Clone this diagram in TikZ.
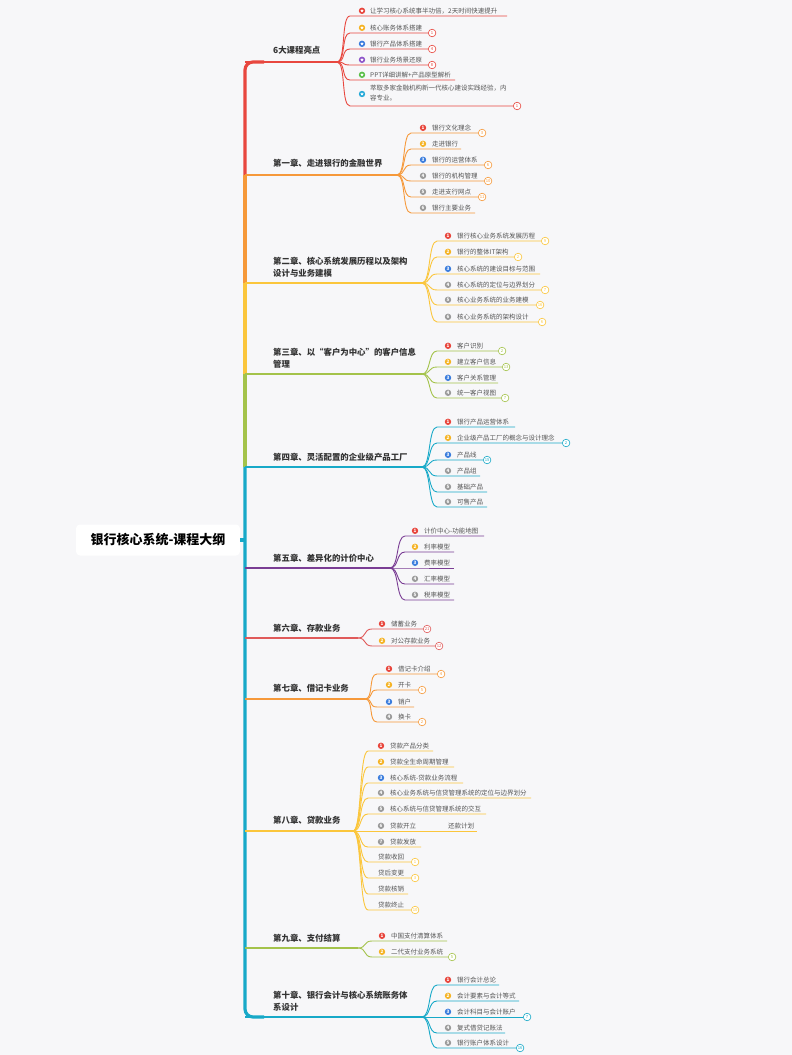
\documentclass[tikz,border=0pt]{standalone}
\usepackage{fontspec}
\setmainfont{Noto Sans CJK SC}
\usetikzlibrary{positioning,shapes.geometric}
\definecolor{bgGray}{HTML}{F7F7F9}
\definecolor{txtDark}{HTML}{333333}
\definecolor{txtGray}{HTML}{555555}
\definecolor{cRed}{HTML}{E8473F}
\definecolor{cOrange}{HTML}{F6993A}
\definecolor{cYellow}{HTML}{FBC63C}
\definecolor{cGreen}{HTML}{A4C34B}
\definecolor{cCyan}{HTML}{18A9C8}
\definecolor{cPurple}{HTML}{7A3D94}
\definecolor{cRose}{HTML}{E05A5A}
\definecolor{hRed}{HTML}{E8453C}
\definecolor{hYel}{HTML}{F5B324}
\definecolor{hBlue}{HTML}{3B7DDD}
\definecolor{hPur}{HTML}{8E55C9}
\definecolor{hGrn}{HTML}{5BBF4A}
\definecolor{hCyan}{HTML}{25A9D8}
\colorlet{num1}{hRed}
\colorlet{num2}{hYel}
\colorlet{num3}{hBlue}
\definecolor{num4}{HTML}{9A9A9A}
\colorlet{num5}{num4}
\colorlet{num6}{num4}
\colorlet{num7}{num4}

\begin{document}
\begin{tikzpicture}[x=1pt,y=-1pt,
   chap/.style={anchor=west,align=left,inner sep=0pt,text=txtDark,
                font=\fontsize{8.4}{12}\selectfont\bfseries},
   item/.style={anchor=base west,inner sep=0pt,text=txtGray,font=\fontsize{6.5}{8}\selectfont},
   ico/.style={circle,inner sep=0pt,minimum size=6.4pt,fill=#1,text=white,
               font=\fontsize{4.6}{5}\selectfont\bfseries},
   hico/.style={circle,inner sep=0pt,minimum size=6.4pt,fill=#1},
   hstar/.style={star,star points=5,star point ratio=2.2,fill=white,inner sep=0pt,minimum size=3.4pt},
   badge/.style={circle,draw=#1,fill=white,text=#1,line width=0.6pt,inner sep=0pt,
                 minimum size=7.6pt,font=\fontsize{4.2}{5}\selectfont},
   lnk/.style={draw=#1,line width=0.9pt},
   chline/.style={draw=#1,line width=1.4pt},
   trunk/.style={draw=#1,line width=3.2pt,rounded corners=8pt},
   root/.style={fill=white,rounded corners=4pt,minimum width=164pt,minimum height=31pt,
                text=black,font=\fontsize{13}{15}\selectfont\bfseries}]
  \useasboundingbox (0,0) rectangle (792,1055);
  \fill[bgGray] (0,0) rectangle (792,1055);

  \node[root] (root) at (158,540) {银行核心系统-课程大纲};

  \coordinate (k0) at (264,62);
  \coordinate (t0) at (245,62);
  \coordinate (t1) at (245,175);
  \coordinate (t2) at (245,283);
  \coordinate (t3) at (245,374);
  \coordinate (t4) at (245,467);
  \coordinate (t5) at (245,568);
  \coordinate (t6) at (245,638);
  \coordinate (t7) at (245,699);
  \coordinate (t8) at (245,831);
  \coordinate (t9) at (245,948);
  \coordinate (t10) at (245,1017);
  \coordinate (k10) at (264,1017);
  \coordinate (tr) at (245,540);

  \draw[trunk=cRed] (k0) -- (t0) -- (t1);
  \draw[trunk=cOrange] (t1) -- (t2);
  \draw[trunk=cYellow] (t2) -- (t3);
  \draw[trunk=cGreen] (t3) -- (t4);
  \draw[trunk=cCyan] (t4) -- (t10) -- (k10);
  \draw[cCyan,line width=3.2pt] (root.east) -- (tr);

  % 6大课程亮点
  \coordinate (f0) at (337,62);
  \node[chap] (ch0) at (273,50) {6大课程亮点};
  \draw[chline=cRed] (t0) -- (f0);
  \foreach \nn/\cc/\yy/\ex/\bd/\txt in {1/hRed/16/507/0/让学习核心系统事半功倍，2天时间快速提升,
      2/hYel/33/428/1/核心账务体系搭建, 3/hBlue/49/428/4/银行产品体系搭建,
      4/hPur/65/428/8/银行业务场景还原, 5/hGrn/80/455/0/PPT详细讲解+产品原型解析}{
    \coordinate (s0-\nn) at (350,\yy);
    \coordinate (e0-\nn) at (\ex,\yy);
    \draw[lnk=cRed] (f0) .. controls +(9,0) and +(-9,0) .. (s0-\nn) -- (e0-\nn);
    \node[hico=\cc] (i0-\nn) at (362,\yy-5.2) {};
    \node[hstar] (j0-\nn) at (i0-\nn) {};
    \node[item] (x0-\nn) at (370,\yy-2.6) {\txt};
    \ifnum\bd>0 \node[badge=cRed,right=0pt of e0-\nn] (b0-\nn) {\bd}; \fi
  }
  \coordinate (s0-6) at (350,106);
  \coordinate (e0-6) at (513,106);
  \draw[lnk=cRed] (f0) .. controls +(9,0) and +(-9,0) .. (s0-6) -- (e0-6);
  \node[hico=hCyan] (i0-6) at (362,94) {};
  \node[hstar] (j0-6) at (i0-6) {};
  \node[item,anchor=north west,align=left,font=\fontsize{6.5}{10.5}\selectfont] (x0-6) at (370,84.5)
    {萃取多家金融机构新一代核心建设实践经验，内\\容专业。};
  \node[badge=cRed,right=0pt of e0-6] (b0-6) {1};

  % 第一章
  \coordinate (f1) at (397,175);
  \node[chap] (ch1) at (273,163) {第一章、走进银行的金融世界};
  \draw[chline=cOrange] (t1) -- (f1);
  \foreach \nn/\yy/\ex/\bd/\txt in {1/133/478/3/银行文化理念, 2/149/461/0/走进银行,
      3/165/484/6/银行的运营体系, 4/181/484/10/银行的机构管理,
      5/197/478/11/走进支行网点, 6/213/475/0/银行主要业务}{
    \coordinate (s1-\nn) at (411,\yy);
    \coordinate (e1-\nn) at (\ex,\yy);
    \draw[lnk=cOrange] (f1) .. controls +(9,0) and +(-9,0) .. (s1-\nn) -- (e1-\nn);
    \node[ico=num\nn] (i1-\nn) at (423,\yy-5.2) {\nn};
    \node[item] (x1-\nn) at (432,\yy-2.6) {\txt};
    \ifnum\bd>0 \node[badge=cOrange,right=0pt of e1-\nn] (b1-\nn) {\bd}; \fi
  }

  % 第二章
  \coordinate (f2) at (422,283);
  \node[chap] (ch2) at (273,267) {第二章、核心系统发展历程以及架构\\设计与业务建模};
  \draw[chline=cYellow] (t2) -- (f2);
  \foreach \nn/\yy/\ex/\bd/\txt in {1/241/541/9/银行核心业务系统发展历程, 2/257/514/2/银行的整体IT架构,
      3/274/540/0/核心系统的建设目标与范围, 4/290/541/7/核心系统的定位与边界划分,
      5/305/536/16/核心业务系统的业务建模, 6/322/538/6/核心业务系统的架构设计}{
    \coordinate (s2-\nn) at (437,\yy);
    \coordinate (e2-\nn) at (\ex,\yy);
    \draw[lnk=cYellow] (f2) .. controls +(9,0) and +(-9,0) .. (s2-\nn) -- (e2-\nn);
    \node[ico=num\nn] (i2-\nn) at (448,\yy-5.2) {\nn};
    \node[item] (x2-\nn) at (457,\yy-2.6) {\txt};
    \ifnum\bd>0 \node[badge=cYellow,right=0pt of e2-\nn] (b2-\nn) {\bd}; \fi
  }

  % 第三章
  \coordinate (f3) at (422,374);
  \node[chap] (ch3) at (273,358.5) {第三章、以“客户为中心”的客户信息\\管理};
  \draw[chline=cGreen] (t3) -- (f3);
  \foreach \nn/\yy/\ex/\bd/\txt in {1/351/498/2/客户识别, 2/367/502/13/建立客户信息,
      3/383/498/0/客户关系管理, 4/398/501/7/统一客户视图}{
    \coordinate (s3-\nn) at (437,\yy);
    \coordinate (e3-\nn) at (\ex,\yy);
    \draw[lnk=cGreen] (f3) .. controls +(9,0) and +(-9,0) .. (s3-\nn) -- (e3-\nn);
    \node[ico=num\nn] (i3-\nn) at (448,\yy-5.2) {\nn};
    \node[item] (x3-\nn) at (457,\yy-2.6) {\txt};
    \ifnum\bd>0 \node[badge=cGreen,right=0pt of e3-\nn] (b3-\nn) {\bd}; \fi
  }

  % 第四章
  \coordinate (f4) at (422,467);
  \node[chap] (ch4) at (273,457) {第四章、灵活配置的企业级产品工厂};
  \draw[chline=cCyan] (t4) -- (f4);
  \foreach \nn/\yy/\ex/\bd/\txt in {1/427/515/0/银行产品运营体系, 2/443/562/2/企业级产品工厂的概念与设计理念,
      3/460/483/15/产品线, 4/476/480/0/产品组, 5/492/487/0/基础产品, 6/507/487/0/可售产品}{
    \coordinate (s4-\nn) at (437,\yy);
    \coordinate (e4-\nn) at (\ex,\yy);
    \draw[lnk=cCyan] (f4) .. controls +(9,0) and +(-9,0) .. (s4-\nn) -- (e4-\nn);
    \node[ico=num\nn] (i4-\nn) at (448,\yy-5.2) {\nn};
    \node[item] (x4-\nn) at (457,\yy-2.6) {\txt};
    \ifnum\bd>0 \node[badge=cCyan,right=0pt of e4-\nn] (b4-\nn) {\bd}; \fi
  }

  % 第五章
  \coordinate (f5) at (390,568);
  \node[chap] (ch5) at (273,558) {第五章、差异化的计价中心};
  \draw[chline=cPurple] (t5) -- (f5);
  \foreach \nn/\yy/\ex/\txt in {1/536/484/计价中心-功能地图, 2/552/454/利率模型,
      3/568/454/费率模型, 4/584/454/汇率模型, 5/600/454/税率模型}{
    \coordinate (s5-\nn) at (405,\yy);
    \coordinate (e5-\nn) at (\ex,\yy);
    \draw[lnk=cPurple] (f5) .. controls +(9,0) and +(-9,0) .. (s5-\nn) -- (e5-\nn);
    \node[ico=num\nn] (i5-\nn) at (415,\yy-5.2) {\nn};
    \node[item] (x5-\nn) at (424,\yy-2.6) {\txt};
  }

  % 第六章
  \coordinate (f6) at (358,638);
  \node[chap] (ch6) at (273,628) {第六章、存款业务};
  \draw[chline=cRose] (t6) -- (f6);
  \foreach \nn/\yy/\ex/\bd/\txt in {1/629/423/21/储蓄业务, 2/646/435/12/对公存款业务}{
    \coordinate (s6-\nn) at (372,\yy);
    \coordinate (e6-\nn) at (\ex,\yy);
    \draw[lnk=cRose] (f6) .. controls +(9,0) and +(-9,0) .. (s6-\nn) -- (e6-\nn);
    \node[ico=num\nn] (i6-\nn) at (382,\yy-5.2) {\nn};
    \node[item] (x6-\nn) at (391,\yy-2.6) {\txt};
    \node[badge=cRose,right=0pt of e6-\nn] (b6-\nn) {\bd};
  }

  % 第七章
  \coordinate (f7) at (365,699);
  \node[chap] (ch7) at (273,688) {第七章、借记卡业务};
  \draw[chline=cOrange] (t7) -- (f7);
  \foreach \nn/\yy/\ex/\bd/\txt in {1/674/437/4/借记卡介绍, 2/690/418/5/开卡,
      3/707/414/0/销户, 4/722/418/2/换卡}{
    \coordinate (s7-\nn) at (377,\yy);
    \coordinate (e7-\nn) at (\ex,\yy);
    \draw[lnk=cOrange] (f7) .. controls +(9,0) and +(-9,0) .. (s7-\nn) -- (e7-\nn);
    \node[ico=num\nn] (i7-\nn) at (389,\yy-5.2) {\nn};
    \node[item] (x7-\nn) at (398,\yy-2.6) {\txt};
    \ifnum\bd>0 \node[badge=cOrange,right=0pt of e7-\nn] (b7-\nn) {\bd}; \fi
  }

  % 第八章
  \coordinate (f8) at (353,831);
  \node[chap] (ch8) at (273,820) {第八章、贷款业务};
  \draw[chline=cYellow] (t8) -- (f8);
  \foreach \nn/\yy/\ex/\txt in {1/751/433/贷款产品分类, 2/767/454/贷款全生命周期管理,
      3/783/463/核心系统-贷款业务流程, 4/798/531/核心业务系统与信贷管理系统的定位与边界划分,
      5/814/486/核心系统与信贷管理系统的交互, 6/831/477/贷款开立, 7/847/421/贷款发放}{
    \coordinate (s8-\nn) at (368,\yy);
    \coordinate (e8-\nn) at (\ex,\yy);
    \draw[lnk=cYellow] (f8) .. controls +(9,0) and +(-9,0) .. (s8-\nn) -- (e8-\nn);
    \node[ico=num\nn] (i8-\nn) at (381,\yy-5.2) {\nn};
    \node[item] (x8-\nn) at (390,\yy-2.6) {\txt};
  }
  \node[item] (x8-r) at (448,828.4) {还款计划};
  \foreach \nn/\yy/\ex/\bd/\txt in {8/862/411/1/贷款收回, 9/878/411/3/贷后变更,
      10/894/408/0/贷款核销, 11/910/411/10/贷款终止}{
    \coordinate (s8-\nn) at (368,\yy);
    \coordinate (e8-\nn) at (\ex,\yy);
    \draw[lnk=cYellow] (f8) .. controls +(9,0) and +(-9,0) .. (s8-\nn) -- (e8-\nn);
    \node[item] (x8-\nn) at (378,\yy-2.6) {\txt};
    \ifnum\bd>0 \node[badge=cYellow,right=0pt of e8-\nn] (b8-\nn) {\bd}; \fi
  }

  % 第九章
  \coordinate (f9) at (358,948);
  \node[chap] (ch9) at (273,938) {第九章、支付结算};
  \draw[chline=cGreen] (t9) -- (f9);
  \foreach \nn/\yy/\ex/\bd/\txt in {1/941/447/0/中国支付清算体系, 2/957/448/5/二代支付业务系统}{
    \coordinate (s9-\nn) at (372,\yy);
    \coordinate (e9-\nn) at (\ex,\yy);
    \draw[lnk=cGreen] (f9) .. controls +(9,0) and +(-9,0) .. (s9-\nn) -- (e9-\nn);
    \node[ico=num\nn] (i9-\nn) at (382,\yy-5.2) {\nn};
    \node[item] (x9-\nn) at (391,\yy-2.6) {\txt};
    \ifnum\bd>0 \node[badge=cGreen,right=0pt of e9-\nn] (b9-\nn) {\bd}; \fi
  }

  % 第十章
  \coordinate (f10) at (422,1017);
  \node[chap] (ch10) at (273,1001) {第十章、银行会计与核心系统账务体\\系设计};
  \draw[chline=cCyan] (t10) -- (f10);
  \foreach \nn/\yy/\ex/\bd/\txt in {1/985/499/0/银行会计总论, 2/1001/519/0/会计要素与会计等式,
      3/1017/523/7/会计科目与会计账户, 4/1033/505/0/复式借贷记账法, 5/1048/516/16/银行账户体系设计}{
    \coordinate (s10-\nn) at (437,\yy);
    \coordinate (e10-\nn) at (\ex,\yy);
    \draw[lnk=cCyan] (f10) .. controls +(9,0) and +(-9,0) .. (s10-\nn) -- (e10-\nn);
    \node[ico=num\nn] (i10-\nn) at (448,\yy-5.2) {\nn};
    \node[item] (x10-\nn) at (457,\yy-2.6) {\txt};
    \ifnum\bd>0 \node[badge=cCyan,right=0pt of e10-\nn] (b10-\nn) {\bd}; \fi
  }
\end{tikzpicture}
\end{document}
